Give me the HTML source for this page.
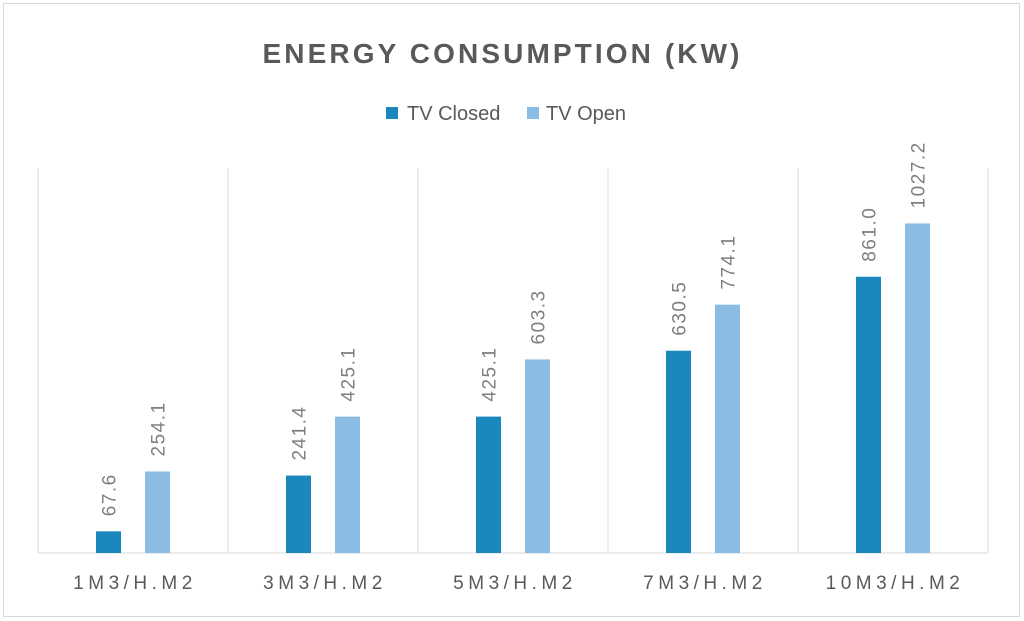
<!DOCTYPE html>
<html><head><meta charset="utf-8"><style>
html,body{margin:0;padding:0;background:#fff;}
svg{display:block;font-family:"Liberation Sans","DejaVu Sans",sans-serif;}
</style></head><body>
<svg id="chart" width="1024" height="621" viewBox="0 0 1024 621">
<rect x="3.5" y="3.5" width="1016" height="613" fill="#fff" stroke="#d9d9d9"/>
<text x="501" y="63" text-anchor="middle" font-size="28" font-weight="bold" fill="#595959" textLength="477" lengthAdjust="spacing">ENERGY CONSUMPTION (KW)</text>
<g>
<g>
<rect x="386" y="107" width="12" height="12" fill="#1a87bd"/>
<text x="407" y="120" font-size="20" fill="#595959">TV Closed</text>
</g>
<g>
<rect x="527" y="107" width="12" height="12" fill="#8bbce3"/>
<text x="546" y="120" font-size="20" fill="#595959">TV Open</text>
</g>
</g>
<g id="plot"></g>
</svg>
<script>
const categories = ["1M3/H.M2","3M3/H.M2","5M3/H.M2","7M3/H.M2","10M3/H.M2"];
const tvClosed = [67.6, 241.4, 425.1, 630.5, 861.0];
const tvOpen = [254.1, 425.1, 603.3, 774.1, 1027.2];
const yMax = 1200;

const L=38, R=988, T=168, B=553;
const bw=(R-L)/categories.length;
const y=v=>B-(v/yMax)*(B-T);
const xc=i=>L+bw*(i+0.5);
const NS="http://www.w3.org/2000/svg";
const g=document.getElementById('plot');
function mk(tag,attrs){const e=document.createElementNS(NS,tag);for(const k in attrs)e.setAttribute(k,attrs[k]);g.appendChild(e);return e;}

for(let i=0;i<=categories.length;i++){
  const l=mk('line',{x1:L+bw*i,x2:L+bw*i,y1:T,y2:B,stroke:'#d9d9d9','stroke-width':1});
  
  
}
const ax=mk('line',{x1:L,x2:R,y1:B,y2:B,stroke:'#d9d9d9','stroke-width':1});



function series(vals,off,color,name){
  vals.forEach((v,i)=>{
    const cx=xc(i)+off;
    const r=mk('rect',{x:cx-12.5,y:y(v),width:25,height:B-y(v),fill:color});
    
    
    const t=mk('text',{x:0,y:0,'font-size':19,'letter-spacing':'1.5',fill:'#7f7f7f',transform:`translate(${cx+7},${y(v)-15}) rotate(-90)`});
    t.textContent=v.toFixed(1);
    
    
  });
}
series(tvClosed,-24.5,'#1a87bd','tv-closed');
series(tvOpen,24.5,'#8bbce3','tv-open');

categories.forEach((c,i)=>{
  const t=mk('text',{x:xc(i)+2,y:589,'font-size':19,fill:'#595959','text-anchor':'middle','letter-spacing':'4.5'});
  t.textContent=c;
  
  
});
</script>
</body></html>
